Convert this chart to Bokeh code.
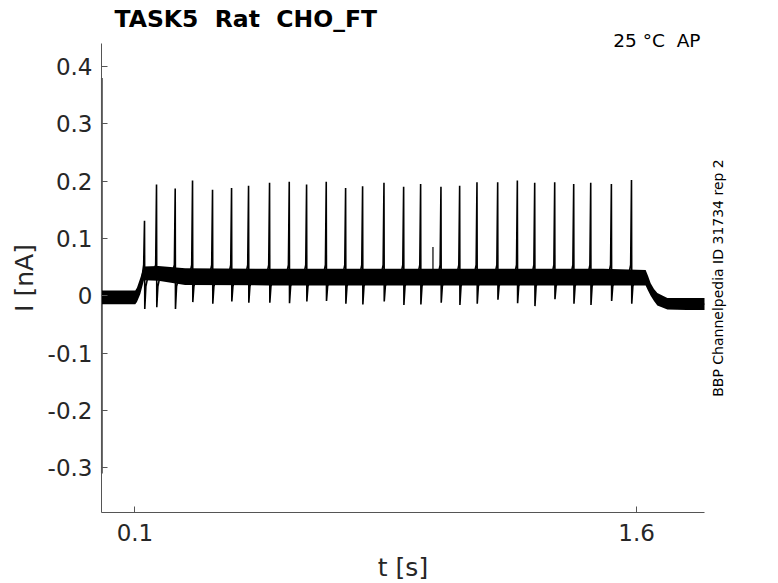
import math
import numpy as np
from bokeh.plotting import figure
from bokeh.models import Range1d, FixedTicker, Label
from bokeh.embed import file_html
from bokeh.resources import INLINE

# ---------------- data ----------------
SP2 = "\u00a0 "   # two visible spaces (SVG collapses plain double spaces)
title_text = "TASK5" + SP2 + "Rat" + SP2 + "CHO_FT"
cond_text = "25 \u00b0C" + SP2 + "AP"
side_text = "BBP Channelpedia ID 31734 rep 2"
x_label = "t [s]"
y_label = "I [nA]"

x_ticks = [0.1, 1.6]
x_tick_labels = ["0.1", "1.6"]
y_ticks = [-0.3, -0.2, -0.1, 0.0, 0.1, 0.2, 0.3, 0.4]
y_tick_labels = ["-0.3", "-0.2", "-0.1", "0", "0.1", "0.2", "0.3", "0.4"]

# axes limits of the reference
t_min, t_max = 0.0, 1.803
i_min, i_max = -0.378, 0.44

# spike times [s], peak and trough currents [nA]
spike_t = [0.1286, 0.1645, 0.2204, 0.2722, 0.3320, 0.3889, 0.4397, 0.5025,
           0.5614, 0.6132, 0.6720, 0.7299, 0.7807, 0.8446, 0.9034, 0.9542,
           1.0150, 1.0709, 1.1227, 1.1846, 1.2434, 1.2953, 1.3551, 1.4119,
           1.4628, 1.5246, 1.5847]
spike_peak = [0.131, 0.194, 0.187, 0.201, 0.185, 0.188, 0.192, 0.197,
              0.199, 0.194, 0.199, 0.188, 0.191, 0.197, 0.190, 0.195,
              0.190, 0.192, 0.198, 0.198, 0.201, 0.197, 0.198, 0.195,
              0.197, 0.195, 0.202]
spike_trough = [-0.023, -0.020, -0.023, -0.011, -0.014, -0.010, -0.012, -0.012,
                -0.013, -0.010, -0.009, -0.014, -0.015, -0.010, -0.016, -0.015,
                -0.012, -0.016, -0.014, -0.007, -0.013, -0.018, -0.006, -0.014,
                -0.016, -0.009, -0.014]
# level of the small bump just before each spike and the dip just after it
hump_level = 0.054
dip_level = 0.016

# small extra event
small_t = [0.9911]
small_peak = [0.085]
small_base = [0.040]

# capacitive transient at the start of the sweep
transient_t = [0.0008, 0.0008]
transient_i = [0.38, -0.31]

# noisy holding / step current: envelope of the trace
band_t = [0.000, 0.101, 0.106, 0.116, 0.127, 0.170, 0.250, 0.500, 1.000,
          1.500, 1.627, 1.634, 1.642, 1.652, 1.662, 1.692, 1.750, 1.803]
band_lo = [-0.015, -0.015, -0.011, 0.003, 0.027, 0.026, 0.019, 0.018, 0.018,
           0.018, 0.018, 0.009, 0.000, -0.009, -0.017, -0.024, -0.025, -0.025]
band_hi = [0.009, 0.009, 0.014, 0.031, 0.051, 0.052, 0.048, 0.047, 0.047,
           0.047, 0.045, 0.035, 0.022, 0.012, 0.005, -0.004, -0.004, -0.004]

# ---------------- layout (pixels) ----------------
W, H = 778, 583
FL, FR, FT, FB = 101, 704, 43, 512          # plot box inside the canvas
sx = (FR - FL) / (t_max - t_min)
sy = (FB - FT) / (i_max - i_min)
xr = Range1d(t_min - FL / sx, t_max + (W - FR) / sx)
yr = Range1d(i_min - (H - FB) / sy, i_max + FT / sy)


def dx(px):   # canvas x pixel -> data
    return t_min + (px - FL) / sx


def dy(py):   # canvas y pixel -> data
    return i_max - (py - FT) / sy


FONT = "DejaVu Sans"
AX_COL = "#555555"
TXT_COL = "#262626"

p = figure(width=W, height=H, output_backend="svg", toolbar_location=None,
           x_range=xr, y_range=yr, min_border=0,
           min_border_left=0, min_border_right=0, min_border_top=0,
           min_border_bottom=0)
p.outline_line_color = None
p.grid.visible = False
p.background_fill_color = "white"
p.border_fill_color = "white"

# trace
band_mid = [(a + b) / 2 for a, b in zip(band_lo, band_hi)]
p.varea(x=band_t, y1=band_lo, y2=band_hi, fill_color="black")
p.line(x=band_t, y=band_mid, line_color="black", line_width=1)
hx, hy = [], []
for t, pk, tr in zip(spike_t, spike_peak, spike_trough):
    xs = [t - 0.010, t - 0.0025, t, t + 0.0008, t + 0.004, t + 0.012]
    y0 = float(np.interp(xs[0], band_t, band_mid))
    y5 = float(np.interp(xs[5], band_t, band_mid))
    hx.append(xs)
    hy.append([y0, max(hump_level, y0), pk, tr, min(dip_level, y5), y5])
p.multi_line(xs=hx, ys=hy, line_color="black", line_width=1.6)
p.segment(x0=small_t, y0=small_base, x1=small_t, y1=small_peak,
          line_color="black", line_width=1.2)
p.line(x=transient_t, y=transient_i, line_color="black", line_width=1.6)

# axes (drawn at the reference's box edges)
for ax in (p.xaxis[0], p.yaxis[0]):
    ax.axis_line_color = AX_COL
    ax.axis_line_width = 1
    ax.major_tick_line_color = AX_COL
    ax.major_tick_in = 6
    ax.major_tick_out = 0
    ax.minor_tick_line_color = None
    ax.major_label_text_font = FONT
    ax.major_label_text_font_size = "23px"
    ax.major_label_text_color = TXT_COL
    ax.axis_label_text_font = FONT
    ax.axis_label_text_font_size = "25px"
    ax.axis_label_text_font_style = "normal"
    ax.axis_label_text_color = TXT_COL

p.xaxis.ticker = FixedTicker(ticks=x_ticks)
p.xaxis.major_label_overrides = {v: s for v, s in zip(x_ticks, x_tick_labels)}
p.xaxis.axis_label = x_label
p.xaxis.fixed_location = i_min
p.xaxis.bounds = (t_min, t_max)
p.xaxis.major_label_standoff = 11
p.xaxis.axis_label_standoff = 9

p.yaxis.ticker = FixedTicker(ticks=y_ticks)
p.yaxis.major_label_overrides = {v: s for v, s in zip(y_ticks, y_tick_labels)}
p.yaxis.axis_label = y_label
p.yaxis.fixed_location = t_min
p.yaxis.bounds = (i_min, i_max)
p.yaxis.major_label_standoff = 9
p.yaxis.axis_label_standoff = 6

# texts
p.add_layout(Label(x=dx(114), y=dy(18), text=title_text, text_font=FONT,
                   text_font_size="23.5px", text_font_style="bold",
                   text_color="black", text_align="left",
                   text_baseline="middle"))
p.add_layout(Label(x=dx(700), y=dy(40), text=cond_text, text_font=FONT,
                   text_font_size="18.5px", text_color="black",
                   text_align="right", text_baseline="middle"))
p.add_layout(Label(x=dx(717), y=dy(277.5), text=side_text, text_font=FONT,
                   text_font_size="14px", text_color="black",
                   text_align="center", text_baseline="middle",
                   angle=math.pi / 2))

open("out.html", "w").write(file_html(p, INLINE))
